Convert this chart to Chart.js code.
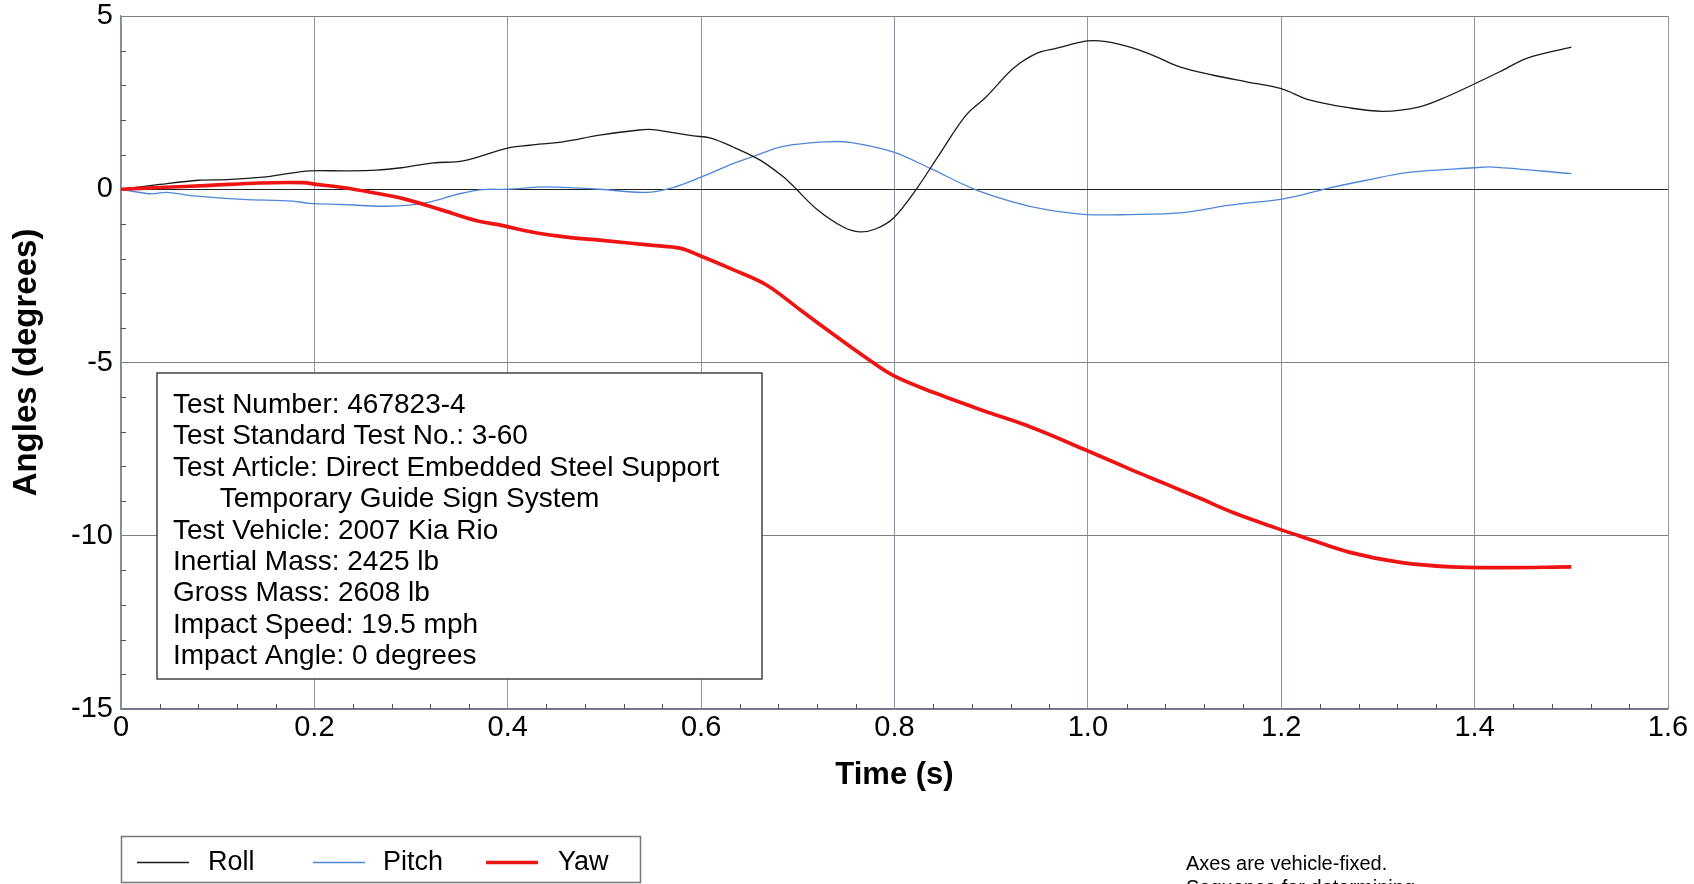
<!DOCTYPE html>
<html>
<head>
<meta charset="utf-8">
<script src="https://cdn.jsdelivr.net/npm/chart.js@4.4.1/dist/chart.umd.min.js"></script>
<style>
  html, body { margin: 0; padding: 0; background: #fff; }
  #wrap { width: 1694px; height: 884px; position: relative; }
</style>
</head>
<body>
<div id="wrap"><canvas id="anglesChart"></canvas></div>
<script>
// values: time (s) / angle (degrees)
const rollTime = [0, 0.04, 0.08, 0.11, 0.15, 0.167, 0.195, 0.23, 0.264, 0.29, 0.323, 0.354, 0.40, 0.423, 0.457, 0.495, 0.536, 0.55, 0.592, 0.609, 0.633, 0.661, 0.685, 0.695, 0.719, 0.747, 0.764, 0.781, 0.799, 0.823, 0.847, 0.874, 0.895, 0.923, 0.947, 0.968, 0.999, 1.019, 1.047, 1.071, 1.095, 1.13, 1.164, 1.199, 1.23, 1.268, 1.305, 1.343, 1.371, 1.399, 1.426, 1.454, 1.50];
const rollAngle = [0, 0.14, 0.26, 0.28, 0.36, 0.43, 0.53, 0.53, 0.55, 0.62, 0.76, 0.82, 1.19, 1.27, 1.37, 1.56, 1.71, 1.72, 1.54, 1.48, 1.22, 0.84, 0.36, 0.1, -0.56, -1.09, -1.23, -1.14, -0.83, 0.02, 1.03, 2.14, 2.67, 3.49, 3.92, 4.07, 4.28, 4.26, 4.07, 3.82, 3.53, 3.29, 3.1, 2.91, 2.57, 2.36, 2.25, 2.38, 2.67, 3.03, 3.39, 3.78, 4.1];

const pitchTime = [0, 0.03, 0.047, 0.078, 0.126, 0.178, 0.195, 0.229, 0.271, 0.298, 0.319, 0.35, 0.374, 0.40, 0.44, 0.495, 0.543, 0.571, 0.599, 0.633, 0.654, 0.685, 0.73, 0.754, 0.799, 0.837, 0.881, 0.923, 0.957, 0.999, 1.043, 1.095, 1.147, 1.199, 1.222, 1.247, 1.288, 1.33, 1.399, 1.419, 1.50];
const pitchAngle = [0, -0.13, -0.09, -0.2, -0.29, -0.34, -0.41, -0.44, -0.49, -0.46, -0.37, -0.13, -0.01, 0.0, 0.07, 0.0, -0.09, 0.05, 0.34, 0.74, 0.95, 1.24, 1.37, 1.35, 1.07, 0.6, 0.02, -0.37, -0.59, -0.73, -0.73, -0.68, -0.46, -0.29, -0.16, 0.02, 0.26, 0.48, 0.62, 0.64, 0.45];

const yawTime = [0, 0.04, 0.092, 0.143, 0.188, 0.202, 0.229, 0.257, 0.292, 0.333, 0.367, 0.395, 0.426, 0.461, 0.495, 0.55, 0.578, 0.599, 0.633, 0.668, 0.702, 0.736, 0.771, 0.799, 0.84, 0.892, 0.937, 0.999, 1.047, 1.081, 1.116, 1.15, 1.195, 1.226, 1.271, 1.323, 1.375, 1.426, 1.50];
const yawAngle = [0, 0.05, 0.11, 0.18, 0.19, 0.14, 0.05, -0.08, -0.27, -0.61, -0.9, -1.05, -1.24, -1.38, -1.47, -1.62, -1.7, -1.92, -2.32, -2.77, -3.47, -4.17, -4.87, -5.38, -5.86, -6.39, -6.82, -7.54, -8.12, -8.51, -8.92, -9.33, -9.78, -10.07, -10.48, -10.77, -10.9, -10.92, -10.9];

const xTicks = [0, 0.2, 0.4, 0.6, 0.8, 1.0, 1.2, 1.4, 1.6];
const yTicks = [-15, -10, -5, 0, 5];

const infoLines = [
  "Test Number: 467823-4",
  "Test Standard Test No.: 3-60",
  "Test Article: Direct Embedded Steel Support",
  "      Temporary Guide Sign System",
  "Test Vehicle: 2007 Kia Rio",
  "Inertial Mass: 2425 lb",
  "Gross Mass: 2608 lb",
  "Impact Speed: 19.5 mph",
  "Impact Angle: 0 degrees"
];
const noteLines = ["Axes are vehicle-fixed.", "Sequence for determining"];

const FONT = "'Liberation Sans', Arial, sans-serif";

function toPoints(ts, vs) {
  return ts.map((t, i) => ({ x: t, y: vs[i] }));
}

// small inward ticks between the gridlines
const minorTicks = {
  id: "minorTicks",
  afterDatasetsDraw(chart) {
    const { ctx, chartArea: a, scales: { x, y } } = chart;
    ctx.save();
    ctx.strokeStyle = "#555";
    ctx.lineWidth = 1;
    ctx.beginPath();
    for (let v = -14; v < 5; v++) {
      if (v % 5 === 0) continue;
      const py = Math.round(y.getPixelForValue(v)) + 0.5;
      ctx.moveTo(a.left, py);
      ctx.lineTo(a.left + 5, py);
    }
    for (let i = 1; i < 40; i++) {
      if (i % 5 === 0) continue;
      const px = Math.round(x.getPixelForValue(i * 0.04)) + 0.5;
      ctx.moveTo(px, a.bottom);
      ctx.lineTo(px, a.bottom - 5);
    }
    ctx.stroke();
    ctx.restore();
  }
};

// test info box, legend box and note text
const extras = {
  id: "extras",
  afterDraw(chart) {
    const ctx = chart.ctx;
    ctx.save();

    // info box
    ctx.fillStyle = "#fff";
    ctx.fillRect(157, 373, 605, 306);
    ctx.strokeStyle = "#444";
    ctx.lineWidth = 1.5;
    ctx.strokeRect(157, 373, 605, 306);
    ctx.fillStyle = "#000";
    ctx.font = "28px " + FONT;
    ctx.textBaseline = "alphabetic";
    ctx.textAlign = "left";
    infoLines.forEach((line, i) => {
      ctx.fillText(line, 173, 413 + i * 31.4);
    });

    // legend
    ctx.strokeStyle = "#777";
    ctx.lineWidth = 1.5;
    ctx.strokeRect(121.5, 836.5, 519, 46);
    const lineX = [137, 313, 486];
    const textX = [208, 383, 558];
    ctx.font = "27px " + FONT;
    ctx.textBaseline = "middle";
    chart.data.datasets.forEach((ds, i) => {
      ctx.strokeStyle = ds.borderColor;
      ctx.lineWidth = ds.borderWidth;
      ctx.beginPath();
      ctx.moveTo(lineX[i], 862.5);
      ctx.lineTo(lineX[i] + 52, 862.5);
      ctx.stroke();
      ctx.fillStyle = "#000";
      ctx.fillText(ds.label, textX[i], 863);
    });

    // note at bottom right
    ctx.font = "20px " + FONT;
    ctx.textBaseline = "alphabetic";
    noteLines.forEach((line, i) => {
      ctx.fillText(line, 1186, 870 + i * 24);
    });

    ctx.restore();
  }
};

const ctx = document.getElementById("anglesChart").getContext("2d");
const anglesChart = new Chart(ctx, {
  type: "line",
  data: {
    datasets: [
      {
        label: "Roll",
        data: toPoints(rollTime, rollAngle),
        borderColor: "#1a1a1a",
        borderWidth: 1.3,
        order: 1
      },
      {
        label: "Pitch",
        data: toPoints(pitchTime, pitchAngle),
        borderColor: "#4f86d8",
        borderWidth: 1.3,
        order: 2
      },
      {
        label: "Yaw",
        data: toPoints(yawTime, yawAngle),
        borderColor: "#ee1414",
        borderWidth: 3.7,
        order: 0
      }
    ]
  },
  options: {
    responsive: true,
    maintainAspectRatio: false,
    animation: false,
    parsing: false,
    layout: { padding: { left: 0, top: 16, right: 26, bottom: 90 } },
    elements: {
      point: { radius: 0 },
      line: { tension: 0.35, fill: false }
    },
    plugins: {
      legend: { display: false },
      tooltip: { enabled: false }
    },
    scales: {
      x: {
        type: "linear",
        min: 0,
        max: 1.6,
        afterBuildTicks: (scale) => { scale.ticks = xTicks.map((v) => ({ value: v })); },
        afterFit: (scale) => {
          scale.height = 85;
          scale.paddingLeft = 0;
          scale.paddingRight = 0;
        },
        ticks: {
          padding: 2,
          color: "#000",
          font: { family: FONT, size: 29 },
          maxRotation: 0,
          callback: (v) => (v === 0 ? "0" : v.toFixed(1))
        },
        grid: { color: "#8e97a8", lineWidth: 1, drawTicks: false },
        border: { display: true, color: "#6a7590", width: 1.2 },
        title: {
          display: true,
          text: "Time (s)",
          color: "#000",
          font: { family: FONT, size: 31, weight: "bold" },
          padding: { top: 0, bottom: 0 }
        }
      },
      y: {
        type: "linear",
        min: -15,
        max: 5,
        afterBuildTicks: (scale) => { scale.ticks = yTicks.map((v) => ({ value: v })); },
        afterFit: (scale) => {
          scale.width = 121;
          scale.paddingTop = 0;
          scale.paddingBottom = 0;
        },
        ticks: {
          padding: 8,
          color: "#000",
          font: { family: FONT, size: 29 },
          callback: (v) => String(v)
        },
        grid: {
          color: (c) => (c.tick && c.tick.value === 0 ? "#222" : "#7d7f86"),
          lineWidth: 1,
          drawTicks: false
        },
        border: { display: true, color: "#6f929a", width: 1.2 },
        title: {
          display: true,
          text: "Angles (degrees)",
          color: "#000",
          font: { family: FONT, size: 33, weight: "bold" },
          padding: { top: 7, bottom: 0 }
        }
      }
    }
  },
  plugins: [minorTicks, extras]
});
</script>
</body>
</html>
